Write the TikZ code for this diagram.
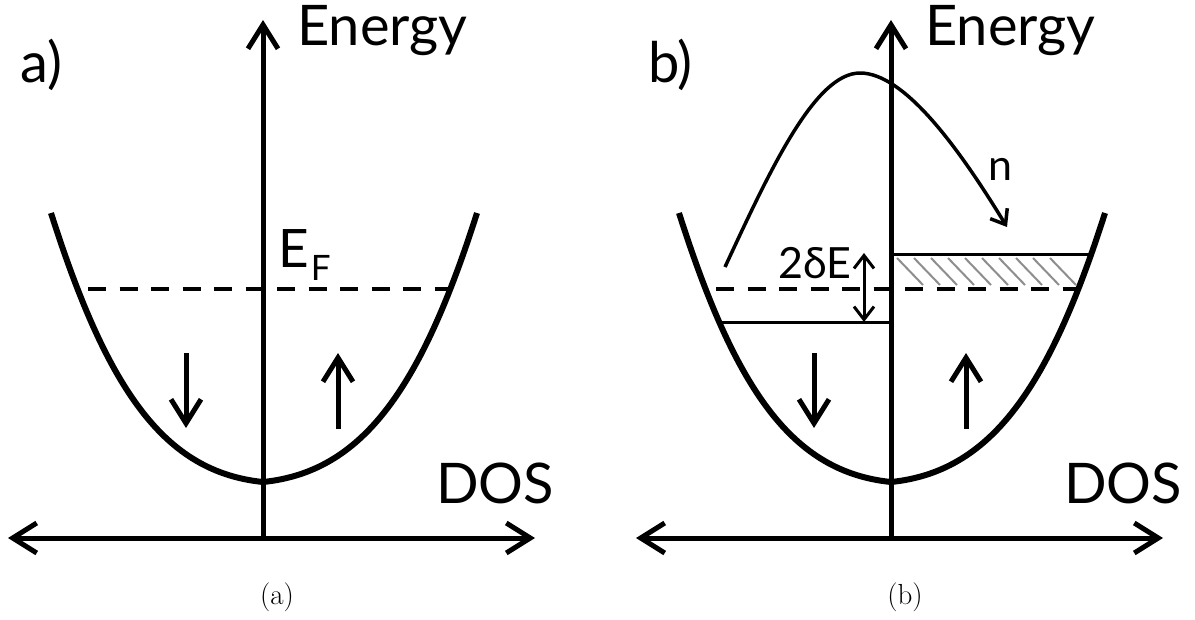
\documentclass[tikz,border=0pt]{standalone}
\usepackage{fontspec}
\newfontfamily\gs{Lato}
\usetikzlibrary{arrows.meta}
\definecolor{hatchgray}{HTML}{8E8E8E}
\tikzset{
  bigtip/.tip={Straight Barb[length=24pt,width=30pt]},
  smalltip/.tip={Straight Barb[length=13pt,width=20pt]},
  bigarrow/.style={line width=5pt, -bigtip},
  bigdouble/.style={line width=5pt, bigtip-bigtip},
  band/.style={line width=6pt, line join=round},
  fermi/.style={line width=4pt, dash pattern=on 18pt off 13.5pt},
  level/.style={line width=3pt},
  hatch/.style={line width=2pt, color=hatchgray},
  hump/.style={line width=3.5pt, -smalltip},
  thindouble/.style={line width=3pt, smalltip-smalltip},
  biglab/.style={inner sep=0pt, font=\gs\fontsize{56}{60}\selectfont},
  sublab/.style={inner sep=0pt, font=\gs\fontsize{43}{48}\selectfont},
  caplab/.style={inner sep=0pt, font=\fontsize{29}{34}\selectfont},
}
\begin{document}
\begin{tikzpicture}[x=1pt,y=-1pt]
\useasboundingbox[fill=white] (0,0) rectangle (1195,619);
\foreach \dx/\lab in {0/a,628/b}{
\begin{scope}[xshift=\dx pt]
  % band
  \draw[band] (51,213) .. controls (108,392) and (165,472) .. (263,482)
              .. controls (361,472) and (420,392) .. (477,213);
  % Fermi level
  \draw[fermi] (88,289) -- (450,289);
  % axes
  \coordinate (vb\lab) at (263,538);
  \coordinate (vt\lab) at (263,20);
  \coordinate (hl\lab) at (8,538);
  \coordinate (hr\lab) at (535,538);
  \draw[bigarrow] (vb\lab) -- (vt\lab);
  \draw[bigdouble] (hl\lab) -- (hr\lab);
  % spin arrows
  \coordinate (ds\lab) at (186,353);
  \coordinate (de\lab) at (186,428);
  \coordinate (us\lab) at (338,429);
  \coordinate (ue\lab) at (338,353);
  \draw[bigarrow] (ds\lab) -- (de\lab);
  \draw[bigarrow] (us\lab) -- (ue\lab);
  % labels
  \node[biglab, anchor=base west] (energy\lab) at (297,45) {Energy};
  \node[biglab, anchor=base west] (dos\lab) at (436,503) {DOS};
  \node[biglab, anchor=base west] (panel\lab) at (20,82) {\lab)};
  \node[caplab, anchor=base] (cap\lab) at (277,604) {(\lab)};
\end{scope}
}
% panel a: Fermi energy label
\node[inner sep=0pt, anchor=base west, font=\gs\fontsize{53}{58}\selectfont] (ef) at (278,267)
  {E\hspace{2pt}\raisebox{-13pt}{\fontsize{35}{40}\selectfont F}};
% panel b: split levels
\draw[level] (891,254) -- (1090,254);
\draw[level] (718,322) -- (891,322);
\foreach \k in {0,...,9}{
  \draw[hatch] ({897+17*\k},258) -- ({923+17*\k},285);
}
\coordinate (dEb) at (864,322);
\coordinate (dEt) at (864,253);
\draw[thindouble] (dEb) -- (dEt);
\node[sublab, anchor=base west] (twodE) at (778,278) {2δE};
\node[sublab, anchor=base west] (nlab) at (988,180) {n};
\coordinate (hs) at (725,267);
\coordinate (hp) at (860,73);
\coordinate (he) at (1007,227);
\draw[hump] (hs) .. controls (770,170) and (815,73) .. (hp)
            .. controls (905,73) and (960,150) .. (he);
\end{tikzpicture}
\end{document}
